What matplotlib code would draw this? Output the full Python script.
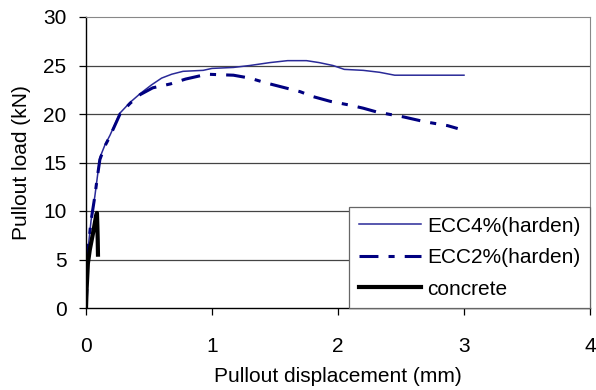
import matplotlib.pyplot as plt

plt.rcParams['font.family'] = ['Liberation Sans', 'DejaVu Sans']

# ECC4% (harden) - thin solid
ecc4_x = [0, 0.01, 0.02, 0.04, 0.07, 0.09, 0.11, 0.15, 0.19, 0.27, 0.35, 0.43, 0.52,
          0.60, 0.68, 0.77, 0.93, 1.00, 1.17, 1.30, 1.46, 1.60, 1.75, 1.85, 1.96,
          2.05, 2.20, 2.33, 2.45, 3.00]
ecc4_y = [0, 3.0, 6.5, 9.0, 11.5, 13.5, 15.5, 16.8, 17.8, 20.1, 21.2, 22.1, 23.0,
          23.7, 24.1, 24.4, 24.5, 24.7, 24.8, 25.0, 25.3, 25.5, 25.5, 25.3, 25.0,
          24.6, 24.5, 24.3, 24.0, 24.0]

# ECC2% (harden) - thick dash-dot
ecc2_x = [0, 0.01, 0.02, 0.04, 0.07, 0.09, 0.11, 0.15, 0.19, 0.27, 0.35, 0.43, 0.53,
          0.67, 0.79, 0.96, 1.17, 1.30, 1.43, 1.55, 1.70, 1.80, 1.94, 2.10, 2.20,
          2.31, 2.52, 2.69, 2.87, 2.95]
ecc2_y = [0, 3.0, 6.5, 9.0, 11.5, 13.5, 15.3, 16.7, 17.7, 20.0, 21.1, 22.0, 22.7,
          23.1, 23.6, 24.1, 24.0, 23.7, 23.2, 22.8, 22.3, 21.8, 21.3, 20.9, 20.6,
          20.2, 19.7, 19.2, 18.8, 18.5]

# concrete - thick black
conc_x = [0, 0.005, 0.015, 0.03, 0.06, 0.08, 0.087, 0.09, 0.093, 0.095]
conc_y = [0, 2.0, 4.6, 6.0, 8.0, 9.5, 9.8, 8.5, 7.0, 5.5]

fig = plt.figure(figsize=(5.96, 3.90), dpi=100)
ax = fig.add_axes([86 / 596, 82 / 390, 504 / 596, 291 / 390])

for yv in [5, 10, 15, 20, 25]:
    ax.axhline(yv, color='#444444', lw=0.9, zorder=0)

ax.plot(ecc4_x, ecc4_y, color='#2a2a98', lw=1.1, label='ECC4%(harden)')
ax.plot(ecc2_x, ecc2_y, color='#000080', lw=2.2, dashes=(6.2, 3.3, 2.0, 3.3),
        label='ECC2%(harden)')
ax.plot(conc_x, conc_y, color='black', lw=3.0, label='concrete')

ax.set_xlim(0, 4)
ax.set_ylim(0, 30)
ax.set_xticks([0, 1, 2, 3, 4])
ax.set_yticks([0, 5, 10, 15, 20, 25, 30])
ax.tick_params(direction='out', length=5, width=0.9, labelsize=15, color='black')
ax.tick_params(axis='x', pad=16)
ax.tick_params(axis='y', pad=9)
ax.spines['top'].set_color('#888888')
ax.spines['right'].set_color('#888888')
ax.spines['left'].set_linewidth(1.0)
ax.spines['bottom'].set_linewidth(1.0)

ax.set_xlabel('Pullout displacement (mm)', fontsize=15, labelpad=8)
ax.set_ylabel('Pullout load (kN)', fontsize=15, labelpad=9)

leg = ax.legend(loc='lower right', bbox_to_anchor=(1, 0), borderaxespad=0,
                fancybox=False, fontsize=15, handlelength=3.0, framealpha=1,
                edgecolor='#666666', borderpad=0.45, labelspacing=0.6,
                handletextpad=0.3)
leg.get_frame().set_linewidth(0.9)

fig.savefig('out.png', dpi=100)
